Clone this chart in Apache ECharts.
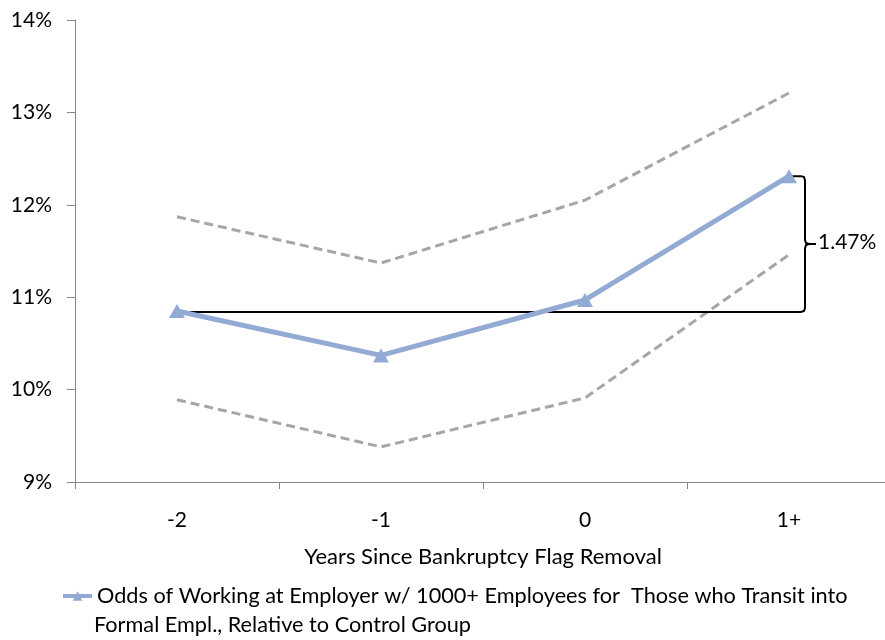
<!DOCTYPE html>
<html>
<head>
<meta charset="utf-8">
<script src="https://cdn.jsdelivr.net/npm/echarts@6/dist/echarts.min.js"></script>
<style>
  html, body { margin: 0; padding: 0; background: #fff; }
  #chart { width: 885px; height: 640px; }
</style>
</head>
<body>
<div id="chart"></div>
<script>
// Years relative to the flag removal
const categories = ['-2', '-1', '0', '1+'];
// Odds estimate (%) and its confidence band
const oddsValues = [10.85, 10.37, 10.97, 12.31];
const upperBand = [11.87, 11.37, 12.05, 13.21];
const lowerBand = [9.89, 9.38, 9.91, 11.46];
// Baseline (first year) used for the change bracket
const baselineValue = 10.84;
const yTicks = { min: 9, max: 14, step: 1 };

const seriesName = 'Odds of Working at Employer w/ 1000+ Employees for  Those who Transit into';
const seriesNameLine2 = 'Formal Empl., Relative to Control Group';
const FONT = 'Lato';

const chart = echarts.init(document.getElementById('chart'), null, { renderer: 'canvas' });

const dashed = {
  type: 'line',
  symbol: 'none',
  silent: true,
  lineStyle: { color: '#A6A6A6', width: 3, type: [9, 5] },
  z: 2
};

const option = {
  animation: false,
  textStyle: { fontFamily: FONT },
  // the plot runs a few pixels past the right edge of the canvas
  grid: { left: 75, width: 816, top: 20, bottom: 158, outerBoundsMode: 'none' },
  xAxis: {
    type: 'category',
    data: categories,
    boundaryGap: true,
    axisLine: { lineStyle: { color: '#868686', width: 1 } },
    axisTick: { show: true, length: 7, lineStyle: { color: '#868686' } },
    axisLabel: { color: '#000', fontSize: 21, fontFamily: FONT, margin: 28 },
    name: 'Years Since Bankruptcy Flag Removal',
    nameLocation: 'middle',
    nameGap: 64,
    nameTextStyle: { color: '#000', fontSize: 22, fontFamily: FONT }
  },
  yAxis: {
    type: 'value',
    min: yTicks.min,
    max: yTicks.max,
    interval: yTicks.step,
    splitLine: { show: false },
    axisLine: { show: true, lineStyle: { color: '#868686', width: 1 } },
    axisTick: { show: true, length: 8, lineStyle: { color: '#868686' } },
    axisLabel: { color: '#000', fontSize: 21, fontFamily: FONT, margin: 23, formatter: '{value}%' }
  },
  legend: {
    data: [seriesName],
    left: 56,
    top: 580,
    itemWidth: 29,
    itemHeight: 12,
    itemGap: 4,
    selectedMode: false,
    lineStyle: { width: 4 },
    textStyle: { color: '#000', fontSize: 21.7, fontFamily: FONT }
  },
  graphic: [{
    type: 'text',
    left: 94,
    top: 614,
    style: { text: seriesNameLine2, fill: '#000', font: '21.7px ' + FONT }
  }],
  series: [
    Object.assign({ name: 'upper', data: upperBand }, dashed),
    Object.assign({ name: 'lower', data: lowerBand }, dashed),
    {
      type: 'custom',
      name: 'bracket',
      silent: true,
      z: 3,
      data: [[baselineValue, oddsValues[oddsValues.length - 1]]],
      renderItem: function (params, api) {
        const base = api.value(0);
        const top = api.value(1);
        const last = categories.length - 1;
        const pStart = api.coord([0, base]);
        const pEnd = api.coord([last, base]);
        const pTop = api.coord([last, top]);
        const yb = pEnd[1], yt = pTop[1], ym = (yb + yt) / 2;
        const xs = pEnd[0] + 3;
        const xr = pEnd[0] + 16;
        const tip = pEnd[0] + 27;
        const r = 4;
        const stroke = { stroke: '#000', lineWidth: 2, fill: null };
        return {
          type: 'group',
          children: [
            { type: 'line', shape: { x1: pStart[0], y1: yb, x2: xr - r, y2: yb }, style: stroke },
            {
              type: 'polyline',
              shape: {
                points: [
                  [xs, yt], [xr - r, yt], [xr - 1, yt + 1], [xr, yt + r],
                  [xr, ym - r], [xr + 1, ym - 1], [xr + r, ym], [tip, ym]
                ]
              },
              style: stroke
            },
            {
              type: 'polyline',
              shape: {
                points: [
                  [xr + r, ym], [xr + 1, ym + 1], [xr, ym + r],
                  [xr, yb - r], [xr - 1, yb - 1], [xr - r, yb]
                ]
              },
              style: stroke
            },
            {
              type: 'text',
              x: tip + 2,
              y: ym - 2,
              style: {
                text: (top - base).toFixed(2) + '%',
                fill: '#000',
                font: '21px ' + FONT,
                verticalAlign: 'middle',
                align: 'left'
              }
            }
          ]
        };
      }
    },
    {
      type: 'line',
      name: seriesName,
      data: oddsValues,
      symbol: 'triangle',
      symbolSize: [16, 14],
      itemStyle: { color: '#93AAD5' },
      lineStyle: { color: '#93AAD5', width: 5 },
      z: 4
    }
  ]
};

chart.setOption(option);
</script>
</body>
</html>
